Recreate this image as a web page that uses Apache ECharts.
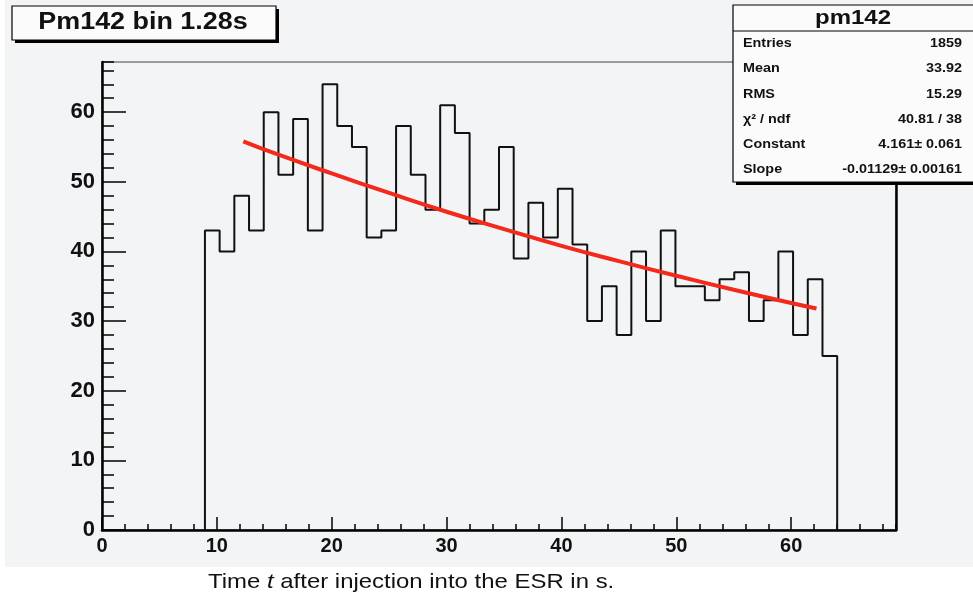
<!DOCTYPE html>
<html>
<head>
<meta charset="utf-8">
<script src="https://cdn.jsdelivr.net/npm/echarts@6/dist/echarts.min.js"></script>
<style>
  html, body { margin: 0; padding: 0; background: #fff; }
  #main { width: 973px; height: 596px; }
</style>
</head>
<body>
<div id="main"></div>
<script>
// histogram pm142, bin width 1.28 s, first filled bin index 7
var binWidth = 1.28;
var firstBin = 7;
var counts = [43, 40, 48, 43, 60, 51, 59, 43,
              64, 58, 55, 42, 43, 58, 51, 46, 61, 57,
              44, 46, 55, 39, 47, 42, 49, 41, 30, 35,
              28, 40, 30, 43, 35, 35, 33, 36, 37, 30,
              33, 40, 28, 36, 25];
// fit curve (t, value)
var fitT   = [12.3, 15, 20, 25, 30, 35, 40, 45, 50, 55, 60, 62.2];
var fitVal = [55.8, 54.1, 51.2, 48.4, 45.7, 43.2, 40.8, 38.6, 36.5, 34.5, 32.6, 31.8];
var xTicks = [0, 10, 20, 30, 40, 50, 60];
var yTicks = [0, 10, 20, 30, 40, 50, 60];
var statLabels = ['Entries', 'Mean', 'RMS', 'χ² / ndf', 'Constant', 'Slope'];
var statValues = ['1859', '33.92', '15.29', '40.81 / 38', '4.161± 0.061', '-0.01129± 0.00161'];

var FONT = '"Liberation Sans", Arial, sans-serif';

// step outline of the histogram
var histData = [[firstBin * binWidth, 0]];
counts.forEach(function(c, i){
    histData.push([+((firstBin + i) * binWidth).toFixed(2), c]);
});
var lastEdge = +((firstBin + counts.length) * binWidth).toFixed(2);
histData.push([lastEdge, counts[counts.length - 1]]);
histData.push([lastEdge, 0]);

var fitData = fitT.map(function(t, i){ return [t, fitVal[i]]; });

var chart = echarts.init(document.getElementById('main'), null, {renderer: 'canvas'});

var statsGraphics = [];
statLabels.forEach(function(lab, i){
    var y = 43.5 + i * 25.3;
    statsGraphics.push({
        type: 'text', z: 102, x: 743, y: y, scaleX: 1.15,
        style: {text: lab, font: 'bold 12.5px ' + FONT, fill: '#111', textVerticalAlign: 'middle'}
    });
    statsGraphics.push({
        type: 'text', z: 102, x: 962, y: y, scaleX: 1.15,
        style: {text: statValues[i], font: 'bold 12.5px ' + FONT, fill: '#111',
                textAlign: 'right', textVerticalAlign: 'middle'}
    });
});

var option = {
    animation: false,
    backgroundColor: '#ffffff',
    grid: {
        left: 102, right: 77, top: 62, bottom: 66,
        show: true, borderColor: '#444', borderWidth: 1, backgroundColor: 'transparent'
    },
    xAxis: [{
        type: 'value', position: 'bottom', min: 0, max: 69.12, interval: 10,
        axisLine: {lineStyle: {color: '#000', width: 2.5}},
        axisTick: {inside: true, length: 13, lineStyle: {color: '#000', width: 1.5}},
        axisLabel: {
            showMaxLabel: false, margin: 6, color: '#111',
            fontFamily: FONT, fontWeight: 'bold', fontSize: 20,
            formatter: function(v){ return xTicks.indexOf(v) >= 0 ? v : ''; }
        },
        splitLine: {show: false}
    }, {
        type: 'value', position: 'bottom', min: 0, max: 69.12, interval: 2,
        axisLine: {show: false},
        axisTick: {inside: true, length: 6, lineStyle: {color: '#000', width: 1.5}},
        axisLabel: {show: false},
        splitLine: {show: false}
    }],
    yAxis: [{
        type: 'value', position: 'left', min: 0, max: 67.2, interval: 10,
        axisLine: {show: true, lineStyle: {color: '#000', width: 2.5}},
        axisTick: {show: true, inside: true, length: 24, lineStyle: {color: '#000', width: 1.5}},
        axisLabel: {
            showMaxLabel: false, margin: 7, color: '#111',
            fontFamily: FONT, fontWeight: 'bold', fontSize: 22,
            formatter: function(v){ return yTicks.indexOf(v) >= 0 ? v : ''; }
        },
        splitLine: {show: false}
    }, {
        type: 'value', position: 'left', min: 0, max: 67.2, interval: 2,
        axisLine: {show: false},
        axisTick: {show: true, inside: true, length: 12, lineStyle: {color: '#000', width: 1.5}},
        axisLabel: {show: false},
        splitLine: {show: false}
    }, {
        type: 'value', position: 'right', min: 0, max: 67.2, interval: 10,
        axisLine: {show: true, lineStyle: {color: '#000', width: 2.5}},
        axisTick: {show: false},
        axisLabel: {show: false},
        splitLine: {show: false}
    }],
    series: [{
        type: 'line', name: 'pm142', step: 'end',
        xAxisIndex: 0, yAxisIndex: 0,
        symbol: 'none', data: histData,
        lineStyle: {color: '#111', width: 2}
    }, {
        type: 'line', name: 'fit', smooth: true,
        xAxisIndex: 0, yAxisIndex: 0,
        symbol: 'none', data: fitData, z: 3,
        lineStyle: {color: '#f2291b', width: 4}
    }],
    graphic: [
        // canvas grey background
        {type: 'rect', z: -100, shape: {x: 5, y: 0, width: 968, height: 567}, style: {fill: '#f3f4f6'}},
        // title box
        {type: 'rect', z: 100, shape: {x: 15, y: 9, width: 264, height: 34}, style: {fill: '#000'}},
        {type: 'rect', z: 101, shape: {x: 12, y: 6, width: 264, height: 34}, style: {fill: '#fbfbfb', stroke: '#000', lineWidth: 1.2}},
        {type: 'text', z: 102, x: 143, y: 23, scaleX: 1.17,
         style: {text: 'Pm142 bin 1.28s', font: 'bold 23px ' + FONT, fill: '#111',
                 textAlign: 'center', textVerticalAlign: 'middle'}},
        // stats box
        {type: 'rect', z: 100, shape: {x: 736, y: 8, width: 245, height: 177}, style: {fill: '#000'}},
        {type: 'rect', z: 101, shape: {x: 733, y: 5, width: 245, height: 177}, style: {fill: '#fbfbfb', stroke: '#000', lineWidth: 1.2}},
        {type: 'line', z: 102, shape: {x1: 733, y1: 31, x2: 973, y2: 31}, style: {stroke: '#000', lineWidth: 1.2}},
        {type: 'text', z: 102, x: 853, y: 18, scaleX: 1.2,
         style: {text: 'pm142', font: 'bold 20px ' + FONT, fill: '#111',
                 textAlign: 'center', textVerticalAlign: 'middle'}},
        // x axis title
        {type: 'text', z: 102, x: 208, y: 582, scaleX: 1.14,
         style: {
            text: 'Time {i|t} after injection into the ESR in s.',
            font: '21px ' + FONT, fill: '#111', textVerticalAlign: 'middle',
            rich: {i: {fontStyle: 'italic', fontSize: 21, fontFamily: FONT, fill: '#111'}}
         }}
    ].concat(statsGraphics)
};

chart.setOption(option);
</script>
</body>
</html>
